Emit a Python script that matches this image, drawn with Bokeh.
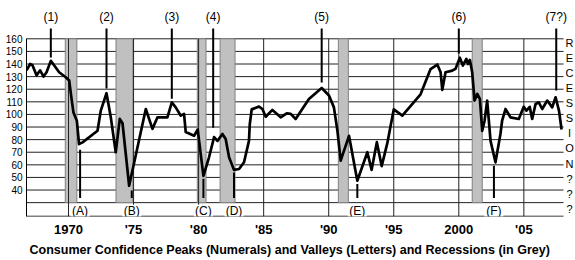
from bokeh.plotting import figure
from bokeh.models import Range1d, FixedTicker
from bokeh.core.properties import value
from bokeh.embed import file_html
from bokeh.resources import INLINE
from bokeh.models import Title

FONT = "Liberation Sans"

# ---- data ----
years = [1966.77, 1967.05, 1967.23, 1967.54, 1967.82, 1968.08, 1968.31, 1968.64, 1968.89,
         1969.28, 1969.79, 1970.05, 1970.25, 1970.38, 1970.64, 1970.81, 1971.08, 1972.23,
         1972.48, 1972.92, 1973.25, 1973.63, 1973.94, 1974.15, 1974.66, 1975.94, 1976.45,
         1976.84, 1977.6, 1977.94, 1978.24, 1978.63, 1978.88, 1979.01, 1979.65, 1979.93,
         1980.37, 1980.8, 1981.19, 1981.45, 1981.83, 1982.08, 1982.34, 1982.72, 1983.11,
         1983.49, 1983.87, 1983.93, 1984.08, 1984.64, 1984.9, 1985.16, 1985.67, 1986.31,
         1986.77, 1987.08, 1987.46, 1988.48, 1989.46, 1990.02, 1990.4, 1990.67, 1990.92,
         1991.56, 1992.2, 1992.97, 1993.3, 1993.7, 1994.07, 1994.5, 1995.0, 1995.66,
         1997.06, 1997.83, 1998.35, 1998.6, 1998.73, 1998.98, 1999.5, 1999.75, 2000.08,
         2000.31, 2000.58, 2000.7, 2000.85, 2001.03, 2001.21, 2001.42, 2001.62, 2001.8,
         2001.98, 2002.18, 2002.31, 2002.44, 2002.82, 2003.2, 2003.33, 2003.59, 2003.97,
         2004.61, 2004.99, 2005.2, 2005.45, 2005.64, 2005.9, 2006.15, 2006.41, 2006.8,
         2007.18, 2007.44, 2007.7, 2007.9]
confidence = [135, 140, 139, 131, 135, 130, 133.5, 142.5, 139,
              133.5, 129.5, 127, 111, 101.6, 95, 76.5, 77.8, 87,
              103, 116.8, 97.7, 70, 96.4, 93, 43.4, 104.3, 88.5,
              97.7, 97.7, 109.6, 105.6, 99, 100.4, 86, 83, 88,
              51.3, 66, 82, 79, 84.5, 80.5, 66, 56, 56.7,
              62, 79, 92, 104, 106.2, 104.3, 98.2, 103.6, 97.7,
              100.9, 100.4, 96.4, 112.3, 121, 115, 105.6, 87, 63.3,
              83, 47.4, 70, 56, 78, 59, 77, 104, 99,
              116, 136, 139.6, 133.5, 119.5, 133.5, 134.8, 136.2, 145,
              138.8, 144, 140, 143.3, 133.5, 111, 116.3, 112.3, 87,
              95, 111, 95, 79, 62, 84.5, 95, 104.3, 97.7,
              96.4, 106, 103, 106, 96.4, 108.3, 109.6, 104.3, 111,
              105.6, 113.6, 103, 88]

rec_start = [1969.75, 1973.65, 1979.9, 1981.65, 1990.74, 2001.03]
rec_end = [1970.64, 1974.95, 1980.57, 1982.8, 1991.51, 2001.8]

peak_labels = ["(1)", "(2)", "(3)", "(4)", "(5)", "(6)", "(7?)"]
peak_years = [1968.64, 1972.92, 1977.94, 1981.12, 1989.46, 2000.0, 2007.49]
peak_line_low = [145.1, 120.5, 112.5, 89.5, 125.3, 148.3, 118.9]

valley_labels = ["(A)", "(B)", "(C)", "(D)", "(E)", "(F)"]
valley_years = [1970.89, 1974.86, 1980.37, 1982.72, 1992.2, 2002.7]
valley_line_high = [72.0, 39.7, 49.0, 54.0, 44.7, 59.3]

year_ticks = [1970, 1975, 1980, 1985, 1990, 1995, 2000, 2005]
year_labels = ["1970", "'75", "'80", "'85", "'90", "'95", "2000", "'05"]
value_ticks = [40, 50, 60, 70, 80, 90, 100, 110, 120, 130, 140, 150, 160]
grid_ticks = [30] + value_ticks
side_ticks = [157, 145, 133, 121, 109, 97, 85, 73, 61, 49, 37, 25]
side_labels = ["R", "E", "C", "E", "S", "S", "I", "O", "N", "?", "?", "?"]

X_START, X_END, X_SIDE = 1966.77, 2008.05, 2008.51
Y_LOW, Y_TOP = 19.0, 160
LINE_TOP, LABEL_Y, VALLEY_LINE_LOW, VALLEY_LABEL_Y = 168.2, 177.7, 33.6, 23.5

p = figure(width=575, height=260, output_backend="svg", toolbar_location=None,
           x_range=Range1d(X_START, 2008.97), y_range=Range1d(Y_LOW, 190.4),
           min_border_left=26, min_border_right=0, min_border_top=0,
           min_border_bottom=44, outline_line_color=None)
p.background_fill_color = "white"
p.xgrid.visible = False
p.ygrid.visible = False

# horizontal grid lines
p.segment(x0=[X_START] * len(grid_ticks), y0=grid_ticks, x1=[X_END] * len(grid_ticks),
          y1=grid_ticks, line_color="#222222", line_width=1)

# recessions
p.quad(left=rec_start, right=rec_end, bottom=30, top=Y_TOP,
       fill_color="#c0c0c0", line_color="#808080", line_width=1)

# vertical year lines
p.segment(x0=year_ticks, y0=[Y_LOW] * len(year_ticks), x1=year_ticks,
          y1=[Y_TOP] * len(year_ticks), line_color="#222222", line_width=1)

# bottom axis line (only across the plot area)
p.segment(x0=[X_START], y0=[Y_LOW], x1=[X_END], y1=[Y_LOW], line_color="black", line_width=1.5)

# data line
p.line(years, confidence, line_color="black", line_width=2.7, line_join="round")

# peak markers
p.segment(x0=peak_years, y0=[LINE_TOP] * len(peak_years), x1=peak_years,
          y1=peak_line_low, line_color="black", line_width=2)
p.text(x=peak_years, y=[LABEL_Y] * len(peak_years), text=peak_labels,
       text_align="center", text_baseline="middle", text_font=value(FONT),
       text_font_size="12px", text_color="black")

# valley markers
p.segment(x0=valley_years, y0=valley_line_high, x1=valley_years,
          y1=[VALLEY_LINE_LOW] * len(valley_years), line_color="black", line_width=2)
p.rect(x=valley_years, y=[VALLEY_LABEL_Y] * len(valley_years), width=19, height=12,
       width_units="screen", height_units="screen", fill_color="white", line_color=None)
p.text(x=valley_years, y=[VALLEY_LABEL_Y] * len(valley_years), text=valley_labels,
       text_align="center", text_baseline="middle", text_font=value(FONT),
       text_font_size="12px", text_color="black")

# right-hand letters
p.text(x=[X_SIDE] * len(side_ticks), y=side_ticks, text=side_labels,
       text_align="center", text_baseline="middle", text_font=value(FONT),
       text_font_size="11px", text_color="black")

# axes
xa = p.xaxis[0]
xa.ticker = FixedTicker(ticks=year_ticks)
xa.major_label_overrides = {t: l for t, l in zip(year_ticks, year_labels)}
xa.major_tick_line_color = None
xa.minor_tick_line_color = None
xa.major_tick_out = 0
xa.major_label_standoff = 5
xa.major_label_text_font = FONT
xa.major_label_text_font_size = "13px"
xa.major_label_text_font_style = "bold"
xa.major_label_text_color = "black"
xa.axis_line_color = None

ya = p.yaxis[0]
ya.ticker = FixedTicker(ticks=value_ticks)
ya.bounds = (Y_LOW, Y_TOP)
ya.major_tick_line_color = None
ya.minor_tick_line_color = None
ya.major_tick_out = 0
ya.major_label_standoff = 4
ya.major_label_text_font = FONT
ya.major_label_text_font_size = "10px"
ya.major_label_text_color = "black"
ya.axis_line_color = "black"

title = Title(text="Consumer Confidence Peaks (Numerals) and Valleys (Letters) and Recessions (in Grey)",
              align="left", offset=3, text_font=FONT, text_font_size="12.5px",
              text_font_style="bold", text_color="black", standoff=2)
p.add_layout(title, "below")

open("out.html", "w").write(file_html(p, INLINE))
